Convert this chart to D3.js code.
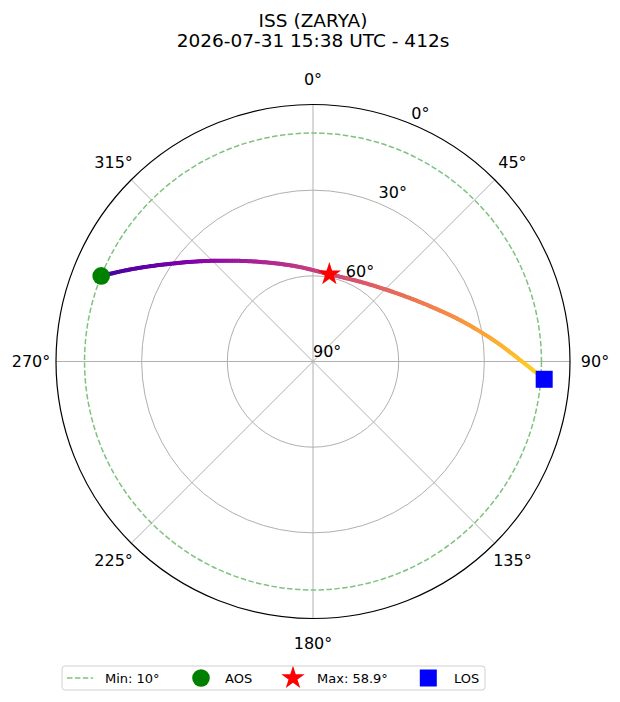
<!DOCTYPE html>
<html>
<head>
<meta charset="utf-8">
<script src="https://cdn.jsdelivr.net/npm/d3@7"></script>
<style>
  body { margin: 0; background: #fff; }
  svg { display: block; font-family: "DejaVu Sans", sans-serif; }
</style>
</head>
<body>
<div id="chart"></div>
<script>
// pass data (azimuth / elevation, degrees)
const trackAz = [292.0, 296.4, 302.6, 310.3, 320.0, 332.7, 349.3, 10.6, 31.6, 50.0, 64.1, 74.8, 83.6, 91.3, 94.4];
const trackEl = [10.0, 17.8, 27.1, 35.9, 43.9, 50.8, 56.0, 58.9, 57.4, 52.5, 45.1, 36.0, 25.9, 14.6, 8.8];
const azTicks = [0, 45, 90, 135, 180, 225, 270, 315];
const elTicks = [0, 30, 60, 90];
const elRings = [30, 60];
const minEl = 10;
const titleLines = ["ISS (ZARYA)", "2026-07-31 15:38 UTC - 412s"];
const legendLabels = ["Min: 10°", "AOS", "Max: 58.9°", "LOS"];

const width = 620, height = 702;
const cx = 313, cy = 361.5, R = 257;

const svg = d3.select("#chart").append("svg")
  .attr("width", width)
  .attr("height", height);

const r = d3.scaleLinear().domain([90, 0]).range([0, R]);
const rad = d => d * Math.PI / 180;
const px = (az, el) => cx + r(el) * Math.sin(rad(az));
const py = (az, el) => cy - r(el) * Math.cos(rad(az));

// title
svg.append("g").selectAll("text")
  .data(titleLines)
  .enter().append("text")
  .attr("x", cx)
  .attr("y", (d, i) => 27 + i * 20)
  .attr("text-anchor", "middle")
  .attr("font-size", 18.5)
  .attr("fill", "#000")
  .text(d => d);

// grid
const grid = svg.append("g");
grid.selectAll("line.spoke")
  .data(azTicks)
  .enter().append("line")
  .attr("x1", cx).attr("y1", cy)
  .attr("x2", d => px(d, 0)).attr("y2", d => py(d, 0))
  .attr("stroke", "#b0b0b0").attr("stroke-width", 1);

grid.selectAll("circle.ring")
  .data(elRings)
  .enter().append("circle")
  .attr("cx", cx).attr("cy", cy)
  .attr("r", d => r(d))
  .attr("fill", "none")
  .attr("stroke", "#b0b0b0").attr("stroke-width", 1);

// outer spine
svg.append("circle")
  .attr("cx", cx).attr("cy", cy).attr("r", r(0))
  .attr("fill", "none").attr("stroke", "#000").attr("stroke-width", 1.2);

// min elevation
svg.append("circle")
  .attr("cx", cx).attr("cy", cy).attr("r", r(minEl))
  .attr("fill", "none")
  .attr("stroke", "#7fc27f").attr("stroke-width", 1.5)
  .attr("stroke-dasharray", "5.5,2.4");

// track: smooth path through the points, coloured along its length
const pts = trackAz.map((a, i) => [px(a, trackEl[i]), py(a, trackEl[i])]);
const line = d3.line().curve(d3.curveCatmullRom.alpha(0.5));
const guide = svg.append("path")
  .attr("d", line(pts))
  .attr("fill", "none")
  .attr("stroke", "none");

const total = guide.node().getTotalLength();
const nSeg = 200;
const color = t => d3.interpolatePlasma(0.1 + t * 0.82);
const trackG = svg.append("g");
for (let i = 0; i < nSeg; i++) {
  const a = guide.node().getPointAtLength(total * i / nSeg);
  const b = guide.node().getPointAtLength(total * (i + 1) / nSeg);
  trackG.append("line")
    .attr("x1", a.x).attr("y1", a.y)
    .attr("x2", b.x).attr("y2", b.y)
    .attr("stroke", color(i / (nSeg - 1)))
    .attr("stroke-width", 4)
    .attr("stroke-linecap", "round");
}

// markers
const iMax = trackEl.indexOf(d3.max(trackEl));
const last = trackAz.length - 1;
const star = d3.symbol().type(d3.symbolStar).size(170);

svg.append("circle")
  .attr("cx", pts[0][0]).attr("cy", pts[0][1])
  .attr("r", 8.8).attr("fill", "green");

svg.append("path")
  .attr("d", star())
  .attr("transform", "translate(" + pts[iMax] + ")")
  .attr("fill", "red");

svg.append("rect")
  .attr("x", pts[last][0] - 8.5).attr("y", pts[last][1] - 8.5)
  .attr("width", 17).attr("height", 17)
  .attr("fill", "blue");

// azimuth labels
svg.append("g").selectAll("text")
  .data(azTicks)
  .enter().append("text")
  .attr("x", d => cx + 282 * Math.sin(rad(d)))
  .attr("y", d => cy - 282 * Math.cos(rad(d)))
  .attr("text-anchor", "middle")
  .attr("dominant-baseline", "central")
  .attr("font-size", 16)
  .text(d => d + "°");

// elevation labels at 22.5°
svg.append("g").selectAll("text")
  .data(elTicks)
  .enter().append("text")
  .attr("x", d => px(22.5, d))
  .attr("y", d => py(22.5, d) - 5)
  .attr("font-size", 16)
  .text(d => d + "°");

// legend
const lg = svg.append("g");
lg.append("rect")
  .attr("x", 62).attr("y", 666)
  .attr("width", 423).attr("height", 24)
  .attr("rx", 3)
  .attr("fill", "#fff")
  .attr("stroke", "#d0d0d0").attr("stroke-width", 1);

const ly = 678;
lg.append("line")
  .attr("x1", 67).attr("x2", 93).attr("y1", ly).attr("y2", ly)
  .attr("stroke", "#7fc27f").attr("stroke-width", 1.5)
  .attr("stroke-dasharray", "5.5,2.4");
lg.append("circle")
  .attr("cx", 201).attr("cy", ly).attr("r", 8.8).attr("fill", "green");
lg.append("path")
  .attr("d", star())
  .attr("transform", "translate(293," + ly + ")")
  .attr("fill", "red");
lg.append("rect")
  .attr("x", 428.3 - 8.5).attr("y", ly - 8.5)
  .attr("width", 17).attr("height", 17).attr("fill", "blue");

const textX = [105, 225, 317, 454];
lg.selectAll("text")
  .data(legendLabels)
  .enter().append("text")
  .attr("x", (d, i) => textX[i])
  .attr("y", ly)
  .attr("dominant-baseline", "central")
  .attr("font-size", 13)
  .text(d => d);
</script>
</body>
</html>
